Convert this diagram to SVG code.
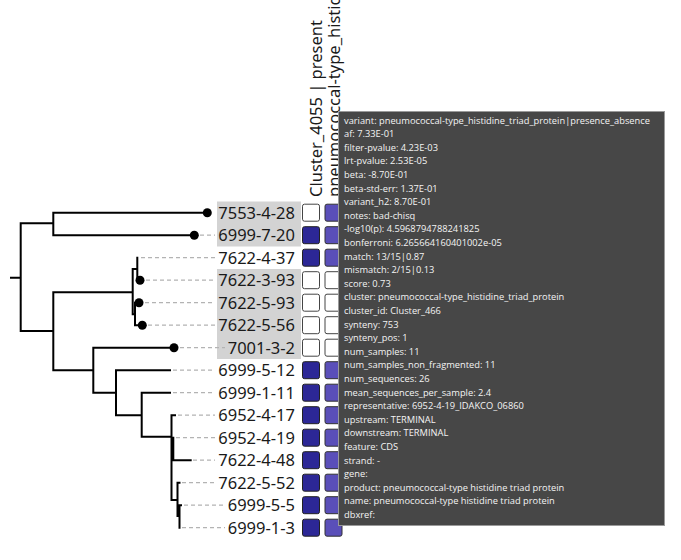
<svg xmlns="http://www.w3.org/2000/svg" width="681" height="560" viewBox="0 0 681 560">
<style>
.br{fill:none;stroke:#000;stroke-width:2;stroke-linecap:square}
.ld{fill:none;stroke:#b3b3b3;stroke-width:1.2;stroke-dasharray:4 3}
.dot{fill:#000}
.lab{font-family:"Noto Sans","Open Sans",sans-serif;font-size:16.5px;fill:#1a1a1a;text-anchor:end}
.hd{font-family:"Noto Sans","Open Sans",sans-serif;font-size:16.5px;fill:#1a1a1a}
.hl{fill:#d3d3d3}
.b0{fill:#fff;stroke:#444;stroke-width:1}
.b1{fill:#2c2796;stroke:#222;stroke-width:1}
.b2{fill:#5a4fb9;stroke:#333;stroke-width:1}
.tt{fill:#474747;stroke:#9a9a9a;stroke-width:1}
.tx{font-family:"Open Sans","Noto Sans",sans-serif;font-size:9.3px;fill:#f4f4f4}
</style>
<rect width="681" height="560" fill="#fff"/>
<g id="highlights">
<rect class="hl" x="217" y="201.5" width="84" height="45"/>
<rect class="hl" x="217" y="269" width="84" height="90"/>
</g>
<g id="connectors">
<path class="br" d="M11,277.7H20.7M20.7,223.3V331M20.7,223.3H53.3M53.3,212.7V235.2M53.3,212.7H207.3M53.3,235.2H194.3M20.7,331H53.3M53.3,292.3V370.2M53.3,292.3H132.7M132.7,269V314.3M132.7,269H137.3M137.3,257.7V280.2M137.3,280.2H140M132.7,314.3H135M135,302.7V325.2M135,302.7H139M135,325.2H142.3M53.3,370.2H93.3M93.3,347.7V392.7M93.3,347.7H174M93.3,392.7H116M116,370.2V415.2M116,370.2H170M116,415.2H141.7M141.7,392.7V436.7M141.7,392.7H170M141.7,436.7H171.5M171.5,415.2V500M171.5,415.2H175M173.3,437.7V460.2M171.5,437.7H173.3M173.3,460.2H190.7M171.5,500H177.5M177.5,482.7V516M177.5,482.7H179.5M177.5,516H179.5M179.5,505.2V527.7M179.5,505.2H181"/>
<path class="ld" d="M200,235.2H215M141,257.7H215M146,280.2H215M145,302.7H215M148,325.2H215M180,347.7H225M173,370.2H215M173,392.7H215M178,415.2H215M176,437.7H215M193,460.2H215M182,482.7H215M184,505.2H225M182,527.7H225"/>
</g>
<g id="header-1"><text class="hd" transform="translate(321.5,197) rotate(-90)">Cluster_4055 | present</text></g>
<g id="header-2"><text class="hd" transform="translate(340,197) rotate(-90)">pneumococcal-type_histidine_triad_protein|presence_absence</text></g>
<g id="leaf-7553-4-28"><circle class="dot" cx="207.3" cy="212.7" r="4.5"/><text class="lab" x="295" y="218.7">7553-4-28</text><rect class="b0" x="302.5" y="204.2" width="17" height="17" rx="2"/><rect class="b2" x="325" y="204.2" width="17" height="17" rx="2"/></g>
<g id="leaf-6999-7-20"><circle class="dot" cx="194.3" cy="235.2" r="4.5"/><text class="lab" x="295" y="241.2">6999-7-20</text><rect class="b1" x="302.5" y="226.7" width="17" height="17" rx="2"/><rect class="b2" x="325" y="226.7" width="17" height="17" rx="2"/></g>
<g id="leaf-7622-4-37"><text class="lab" x="295" y="263.7">7622-4-37</text><rect class="b1" x="302.5" y="249.2" width="17" height="17" rx="2"/><rect class="b2" x="325" y="249.2" width="17" height="17" rx="2"/></g>
<g id="leaf-7622-3-93"><circle class="dot" cx="140" cy="280.2" r="4.5"/><text class="lab" x="295" y="286.2">7622-3-93</text><rect class="b0" x="302.5" y="271.7" width="17" height="17" rx="2"/><rect class="b0" x="325" y="271.7" width="17" height="17" rx="2"/></g>
<g id="leaf-7622-5-93"><circle class="dot" cx="139" cy="302.7" r="4.5"/><text class="lab" x="295" y="308.7">7622-5-93</text><rect class="b0" x="302.5" y="294.2" width="17" height="17" rx="2"/><rect class="b0" x="325" y="294.2" width="17" height="17" rx="2"/></g>
<g id="leaf-7622-5-56"><circle class="dot" cx="142.3" cy="325.2" r="4.5"/><text class="lab" x="295" y="331.2">7622-5-56</text><rect class="b0" x="302.5" y="316.7" width="17" height="17" rx="2"/><rect class="b0" x="325" y="316.7" width="17" height="17" rx="2"/></g>
<g id="leaf-7001-3-2"><circle class="dot" cx="174" cy="347.7" r="4.5"/><text class="lab" x="295" y="353.7">7001-3-2</text><rect class="b0" x="302.5" y="339.2" width="17" height="17" rx="2"/><rect class="b0" x="325" y="339.2" width="17" height="17" rx="2"/></g>
<g id="leaf-6999-5-12"><text class="lab" x="295" y="376.2">6999-5-12</text><rect class="b1" x="302.5" y="361.7" width="17" height="17" rx="2"/><rect class="b2" x="325" y="361.7" width="17" height="17" rx="2"/></g>
<g id="leaf-6999-1-11"><text class="lab" x="295" y="398.7">6999-1-11</text><rect class="b1" x="302.5" y="384.2" width="17" height="17" rx="2"/><rect class="b2" x="325" y="384.2" width="17" height="17" rx="2"/></g>
<g id="leaf-6952-4-17"><text class="lab" x="295" y="421.2">6952-4-17</text><rect class="b1" x="302.5" y="406.7" width="17" height="17" rx="2"/><rect class="b2" x="325" y="406.7" width="17" height="17" rx="2"/></g>
<g id="leaf-6952-4-19"><text class="lab" x="295" y="443.7">6952-4-19</text><rect class="b1" x="302.5" y="429.2" width="17" height="17" rx="2"/><rect class="b2" x="325" y="429.2" width="17" height="17" rx="2"/></g>
<g id="leaf-7622-4-48"><text class="lab" x="295" y="466.2">7622-4-48</text><rect class="b1" x="302.5" y="451.7" width="17" height="17" rx="2"/><rect class="b2" x="325" y="451.7" width="17" height="17" rx="2"/></g>
<g id="leaf-7622-5-52"><text class="lab" x="295" y="488.7">7622-5-52</text><rect class="b1" x="302.5" y="474.2" width="17" height="17" rx="2"/><rect class="b2" x="325" y="474.2" width="17" height="17" rx="2"/></g>
<g id="leaf-6999-5-5"><text class="lab" x="295" y="511.2">6999-5-5</text><rect class="b1" x="302.5" y="496.7" width="17" height="17" rx="2"/><rect class="b2" x="325" y="496.7" width="17" height="17" rx="2"/></g>
<g id="leaf-6999-1-3"><text class="lab" x="295" y="533.7">6999-1-3</text><rect class="b1" x="302.5" y="519.2" width="17" height="17" rx="2"/><rect class="b2" x="325" y="519.2" width="17" height="17" rx="2"/></g>
<g id="tooltip">
<rect class="tt" x="338.5" y="111.5" width="326" height="414"/>
<text class="tx" x="344" y="123.5">
<tspan x="344" y="123.5">variant: pneumococcal-type_histidine_triad_protein|presence_absence</tspan>
<tspan x="344" dy="13.6">af: 7.33E-01</tspan>
<tspan x="344" dy="13.6">filter-pvalue: 4.23E-03</tspan>
<tspan x="344" dy="13.6">lrt-pvalue: 2.53E-05</tspan>
<tspan x="344" dy="13.6">beta: -8.70E-01</tspan>
<tspan x="344" dy="13.6">beta-std-err: 1.37E-01</tspan>
<tspan x="344" dy="13.6">variant_h2: 8.70E-01</tspan>
<tspan x="344" dy="13.6">notes: bad-chisq</tspan>
<tspan x="344" dy="13.6">-log10(p): 4.5968794788241825</tspan>
<tspan x="344" dy="13.6">bonferroni: 6.265664160401002e-05</tspan>
<tspan x="344" dy="13.6">match: 13/15|0.87</tspan>
<tspan x="344" dy="13.6">mismatch: 2/15|0.13</tspan>
<tspan x="344" dy="13.6">score: 0.73</tspan>
<tspan x="344" dy="13.6">cluster: pneumococcal-type_histidine_triad_protein</tspan>
<tspan x="344" dy="13.6">cluster_id: Cluster_466</tspan>
<tspan x="344" dy="13.6">synteny: 753</tspan>
<tspan x="344" dy="13.6">synteny_pos: 1</tspan>
<tspan x="344" dy="13.6">num_samples: 11</tspan>
<tspan x="344" dy="13.6">num_samples_non_fragmented: 11</tspan>
<tspan x="344" dy="13.6">num_sequences: 26</tspan>
<tspan x="344" dy="13.6">mean_sequences_per_sample: 2.4</tspan>
<tspan x="344" dy="13.6">representative: 6952-4-19_IDAKCO_06860</tspan>
<tspan x="344" dy="13.6">upstream: TERMINAL</tspan>
<tspan x="344" dy="13.6">downstream: TERMINAL</tspan>
<tspan x="344" dy="13.6">feature: CDS</tspan>
<tspan x="344" dy="13.6">strand: -</tspan>
<tspan x="344" dy="13.6">gene:</tspan>
<tspan x="344" dy="13.6">product: pneumococcal-type histidine triad protein</tspan>
<tspan x="344" dy="13.6">name: pneumococcal-type histidine triad protein</tspan>
<tspan x="344" dy="13.6">dbxref:</tspan>
</text>
</g>
</svg>
